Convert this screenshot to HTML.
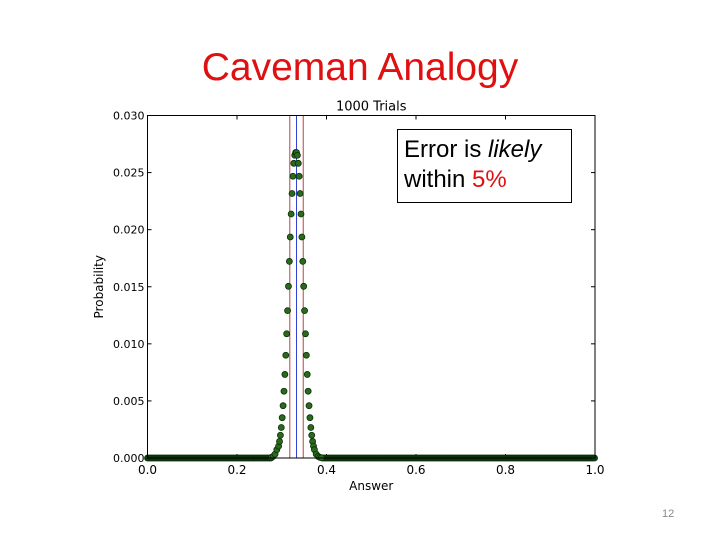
<!DOCTYPE html>
<html><head><meta charset="utf-8"><style>
body{margin:0;background:#fff;width:720px;height:540px;overflow:hidden;position:relative;font-family:"Liberation Sans",sans-serif}
#title{position:absolute;left:0;width:720px;top:46px;text-align:center;font-size:39px;color:#e01010;font-family:"Liberation Sans",sans-serif}
#pagenum{position:absolute;left:662px;top:508px;font-size:11px;color:#888}
#note{position:absolute;left:397px;top:129px;width:175px;height:74px;border:1px solid #000;background:#fff;font-size:24px;line-height:30px;padding:5px 0 0 6px;box-sizing:border-box}
</style></head><body>
<div id="title">Caveman Analogy</div>
<svg id="chart" width="720" height="540" style="position:absolute;left:0;top:0"></svg>
<div id="note">Error is <i>likely</i><br>within <span style="color:#e01010">5%</span></div>
<div id="pagenum">12</div>
<script>
const xTicks=[0.0,0.2,0.4,0.6,0.8,1.0];
const yTicks=[0.000,0.005,0.010,0.015,0.020,0.025,0.030];
const peakAnswers=[0.277,0.281,0.285,0.289,0.293,0.295,0.297,0.299,0.301,0.303,0.305,0.307,0.309,0.311,0.313,0.315,0.317,0.319,0.321,0.323,0.325,0.327,0.329,0.331,0.333,0.335,0.337,0.339,0.341,0.343,0.345,0.347,0.349,0.351,0.353,0.355,0.357,0.359,0.361,0.363,0.365,0.367,0.369,0.371,0.373,0.377,0.381,0.385,0.389];
const peakProbs=[0.00006,0.00015,0.00034,0.00073,0.00104,0.00145,0.00199,0.00267,0.00353,0.00458,0.00585,0.00732,0.00900,0.01088,0.01291,0.01504,0.01722,0.01936,0.02137,0.02317,0.02468,0.02581,0.02652,0.02676,0.02676,0.02652,0.02581,0.02468,0.02317,0.02137,0.01936,0.01722,0.01504,0.01291,0.01088,0.00900,0.00732,0.00585,0.00458,0.00353,0.00267,0.00199,0.00145,0.00104,0.00073,0.00034,0.00015,0.00006,0.00002];
const tailAnswers=[];
for(let k=0;k<=1000;k+=3){if(k<277||k>389)tailAnswers.push(k/1000);}
const tailProbs=tailAnswers.map(()=>0);
const trueValue=[0.333];
const errorBounds=[0.318,0.348];
const L=147.5,R=595,T=115.5,B=458;
const X=v=>L+(v-0)/(1-0)*(R-L);
const Y=v=>B-(v/0.030)*(B-T);
const svg=document.getElementById('chart');const NS='http://www.w3.org/2000/svg';
function mk(tag,attrs,parent){const e=document.createElementNS(NS,tag);for(const k in attrs)e.setAttribute(k,attrs[k]);(parent||svg).appendChild(e);return e;}
const frame=mk('rect',{x:L,y:T,width:R-L,height:B-T,fill:'#fff',stroke:'none'});


xTicks.forEach(t=>{
 const ln=mk('line',{x1:X(t),x2:X(t),y1:B,y2:B-4,stroke:'#000'});
 
 
 mk('line',{x1:X(t),x2:X(t),y1:T,y2:T+4,stroke:'#000'});
 const tx=mk('text',{x:X(t),y:B+16,'text-anchor':'middle','font-size':12,'font-family':'DejaVu Sans,sans-serif'});tx.textContent=t.toFixed(1);
 
 
});
yTicks.forEach(t=>{
 const ln=mk('line',{x1:L,x2:L+4,y1:Y(t),y2:Y(t),stroke:'#000'});
 
 
 mk('line',{x1:R,x2:R-4,y1:Y(t),y2:Y(t),stroke:'#000'});
 const tx=mk('text',{x:L-3,y:Y(t)+4,'text-anchor':'end','font-size':11,'font-family':'DejaVu Sans,sans-serif'});tx.textContent=t.toFixed(3);
 
 
});
errorBounds.forEach(v=>{
 const ln=mk('line',{x1:X(v),x2:X(v),y1:T,y2:B,stroke:'#c04040','stroke-width':1});
 
 
});
trueValue.forEach(v=>{
 const ln=mk('line',{x1:X(v),x2:X(v),y1:T,y2:B,stroke:'#3040d0','stroke-width':1});
 
 
});
function dots(xs,ys,fill){xs.forEach((a,i)=>{
 const c=mk('circle',{cx:X(a),cy:Y(ys[i]),r:3,fill:fill,stroke:'#0a300a','stroke-width':0.8});
 
 
});}
dots(tailAnswers,tailProbs,'#123f12');dots(peakAnswers,peakProbs,'#2a6a1a');
const bx=mk('rect',{x:L,y:T,width:R-L,height:B-T,fill:'none',stroke:'#000','stroke-width':1});


const tt=mk('text',{x:(L+R)/2,y:T-5,'text-anchor':'middle','font-size':13,'font-family':'DejaVu Sans,sans-serif'});tt.textContent='1000 Trials';


const xl=mk('text',{x:(L+R)/2,y:B+32,'text-anchor':'middle','font-size':12,'font-family':'DejaVu Sans,sans-serif'});xl.textContent='Answer';


const yl=mk('text',{x:0,y:0,'text-anchor':'middle','font-size':12,'font-family':'DejaVu Sans,sans-serif',transform:`translate(103,${(T+B)/2}) rotate(-90)`});yl.textContent='Probability';


</script>
</body></html>
